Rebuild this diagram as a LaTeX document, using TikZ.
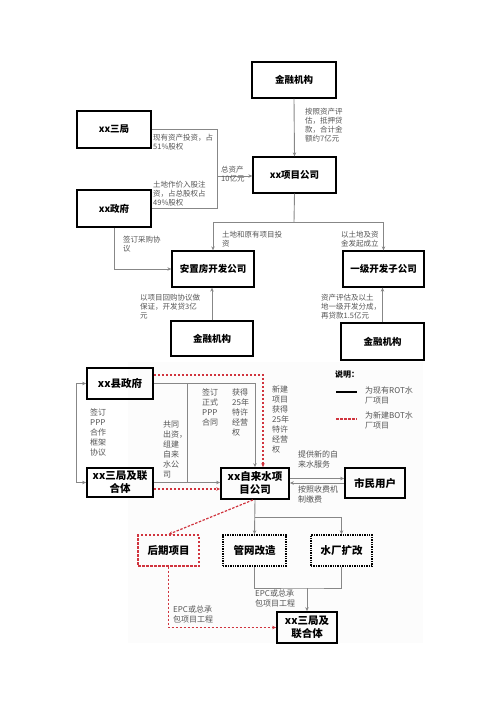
\documentclass[tikz,border=0pt]{standalone}
\usepackage{fontspec}
\setmainfont{Noto Sans CJK SC}
\usetikzlibrary{calc, arrows.meta, positioning}

\definecolor{linegray}{RGB}{135,135,135}
\definecolor{textgray}{RGB}{85,85,85}
\definecolor{dashred}{RGB}{208,52,62}

\begin{document}
\begin{tikzpicture}[x=1pt, y=-1pt, >={Stealth[length=4pt,width=3.5pt]},
    box/.style={draw=black, line width=1.3pt, inner sep=0pt, align=center,
        font=\fontsize{9.5}{11}\selectfont\bfseries},
    bigbox/.style={draw=black, line width=1.8pt, inner sep=0pt, align=center,
        font=\fontsize{10.5}{13}\selectfont\bfseries},
    conn/.style={draw=linegray, line width=0.9pt},
    reddash/.style={draw=dashred, line width=1.2pt, dash pattern=on 2.5pt off 1.5pt},
    lab/.style={anchor=north west, inner sep=0pt, text=textgray, align=left,
        font=\fontsize{7.5}{9}\selectfont},
    lablow/.style={lab, font=\fontsize{8}{10}\selectfont}]
    \useasboundingbox (0,0) rectangle (500,707);
    \fill[black!1] (128,362) rectangle (423,643);

    % Upper diagram: boxes
    \node[box, minimum width=84pt, minimum height=36pt] (jinrong1) at (294,80) {金融机构};
    \node[box, minimum width=74pt, minimum height=37pt] (sanju) at (114,129.5) {xx三局};
    \node[box, minimum width=83pt, minimum height=36pt] (xmgs) at (294.5,175) {xx项目公司};
    \node[box, minimum width=74pt, minimum height=37pt] (zhengfu) at (114,208.5) {xx政府};
    \node[box, minimum width=82pt, minimum height=36pt] (anzhi) at (213,269) {安置房开发公司};
    \node[box, minimum width=81pt, minimum height=36pt] (yiji) at (383.5,269) {一级开发子公司};
    \node[box, minimum width=82pt, minimum height=35pt] (jinrong2) at (212,338.5) {金融机构};
    \node[box, minimum width=83pt, minimum height=37pt] (jinrong3) at (382.5,341.5) {金融机构};

    % Upper diagram: connectors
    \coordinate (gu) at (217,176);
    \draw[conn] (sanju.east) -- (sanju.east -| gu) -- (zhengfu.east -| gu) -- (zhengfu.east);
    \draw[conn,->] (gu) -- (gu -| xmgs.west);
    \draw[conn,->] (jinrong1.south) -- (xmgs.north);
    \coordinate (fen) at (294,222);
    \draw[conn] (xmgs.south) -- (fen);
    \draw[conn,->] (fen) -| (anzhi.north);
    \draw[conn,->] (fen) -| (yiji.north);
    \draw[conn,->] (zhengfu.south) |- (anzhi.west);
    \draw[conn,->] (jinrong2.north) -- (jinrong2.north |- anzhi.south);
    \draw[conn,->] (jinrong3.north) -- (jinrong3.north |- yiji.south);

    % Upper diagram: labels
    \node[lab] (l1) at (305,108) {按照资产评\\估，抵押贷\\款，合计金\\额约7亿元};
    \node[lab] (l2) at (153,134) {现有资产投资，占\\51\%股权};
    \node[lab] (l3) at (153,181) {土地作价入股注\\资，占总股权占\\49\%股权};
    \node[lab] (l4) at (221,166) {总资产\\10亿元};
    \node[lab] (l5) at (222,231) {土地和原有项目投\\资};
    \node[lab] (l6) at (341,231) {以土地及资\\金发起成立};
    \node[lab] (l7) at (123,236) {签订采购协\\议};
    \node[lab] (l8) at (140,294) {以项目回购协议做\\保证，开发贷3亿\\元};
    \node[lab] (l9) at (321,294) {资产评估及以土\\地一级开发分成，\\再贷款1.5亿元};

    % Lower diagram: boxes
    \node[bigbox, minimum width=66pt, minimum height=31pt] (xianzf) at (120,383.5) {xx县政府};
    \node[bigbox, minimum width=66pt, minimum height=29pt] (lianhe) at (120,482.5) {xx三局及联\\合体};
    \node[bigbox, minimum width=68pt, minimum height=31pt] (zilaishui) at (255,483.5) {xx自来水项\\目公司};
    \node[bigbox, minimum width=60pt, minimum height=30pt] (shimin) at (375,483) {市民用户};
    \node[bigbox, draw=dashred, line width=1.3pt, dash pattern=on 2.5pt off 1.5pt,
        minimum width=61pt, minimum height=31pt] (houqi) at (168.5,550.5) {后期项目};
    \node[bigbox, line width=1.4pt, densely dotted,
        minimum width=63pt, minimum height=31pt] (guanwang) at (254.5,550.5) {管网改造};
    \node[bigbox, line width=1.4pt, densely dotted,
        minimum width=61pt, minimum height=31pt] (shuichang) at (341.5,550.5) {水厂扩改};
    \node[bigbox, minimum width=60pt, minimum height=31pt] (lianhe2) at (307,627.5) {xx三局及\\联合体};

    % Lower diagram: connectors
    \draw[conn,<->] (xianzf.west) -- ++(-10,0) |- (lianhe.west);
    \draw[conn,->] (xianzf.east) -| (zilaishui.north);
    \draw[reddash,->] ([yshift=8.5pt]xianzf.east) -| ([xshift=8pt]zilaishui.north);
    \coordinate (gongtong) at (187,383.5);
    \draw[conn] (gongtong) -- (gongtong |- lianhe.east);
    \draw[conn,->] (lianhe.east) -- (lianhe.east -| zilaishui.west);
    \draw[reddash,->] ([yshift=-6.5pt]lianhe.east) -- ([yshift=-6.5pt]lianhe.east -| zilaishui.west);
    \draw[conn,->] ([yshift=5pt]zilaishui.east) -- ([yshift=5pt]zilaishui.east -| shimin.west);
    \draw[conn,<-] ([yshift=0.5pt]zilaishui.east) -- ([yshift=0.5pt]zilaishui.east -| shimin.west);
    \draw[reddash,->] ([xshift=-2pt]zilaishui.south) -- (houqi.north);
    \coordinate (gai) at (254.5,517);
    \draw[conn,->] (zilaishui.south) -- (guanwang.north);
    \draw[conn,->] (gai) -| (shuichang.north);
    \coordinate (epc) at (307,588);
    \draw[conn] (guanwang.south) |- (epc) -| (shuichang.south);
    \draw[conn,->] (epc) -- (lianhe2.north);
    \draw[reddash,->] (houqi.south) |- (lianhe2.west);

    % Lower diagram: labels
    \node[lablow] (m1) at (90,409) {签订\\PPP\\合作\\框架\\协议};
    \node[lablow] (m2) at (163,421) {共同\\出资，\\组建\\自来\\水公\\司};
    \node[lablow] (m3) at (202,389) {签订\\正式\\PPP\\合同};
    \node[lablow] (m4) at (232,389) {获得\\25年\\特许\\经营\\权};
    \node[lablow] (m5) at (272,386) {新建\\项目\\获得\\25年\\特许\\经营\\权};
    \node[lablow] (m6) at (298,451) {提供新的自\\来水服务};
    \node[lablow] (m7) at (298,486) {按照收费机\\制缴费};
    \node[lablow] (m8) at (255,590) {EPC或总承\\包项目工程};
    \node[lablow] (m9) at (173,606) {EPC或总承\\包项目工程};

    % Legend
    \node[lablow, text=black, font=\fontsize{8}{10}\selectfont\bfseries] (shuoming) at (335,370) {说明：};
    \draw[black, line width=1.2pt] (336,392) -- (357,392);
    \draw[reddash] (336,419) -- (357,419);
    \node[lablow] (rot) at (365,387) {为现有ROT水\\厂项目};
    \node[lablow] (bot) at (365,412) {为新建BOT水\\厂项目};
\end{tikzpicture}
\end{document}
